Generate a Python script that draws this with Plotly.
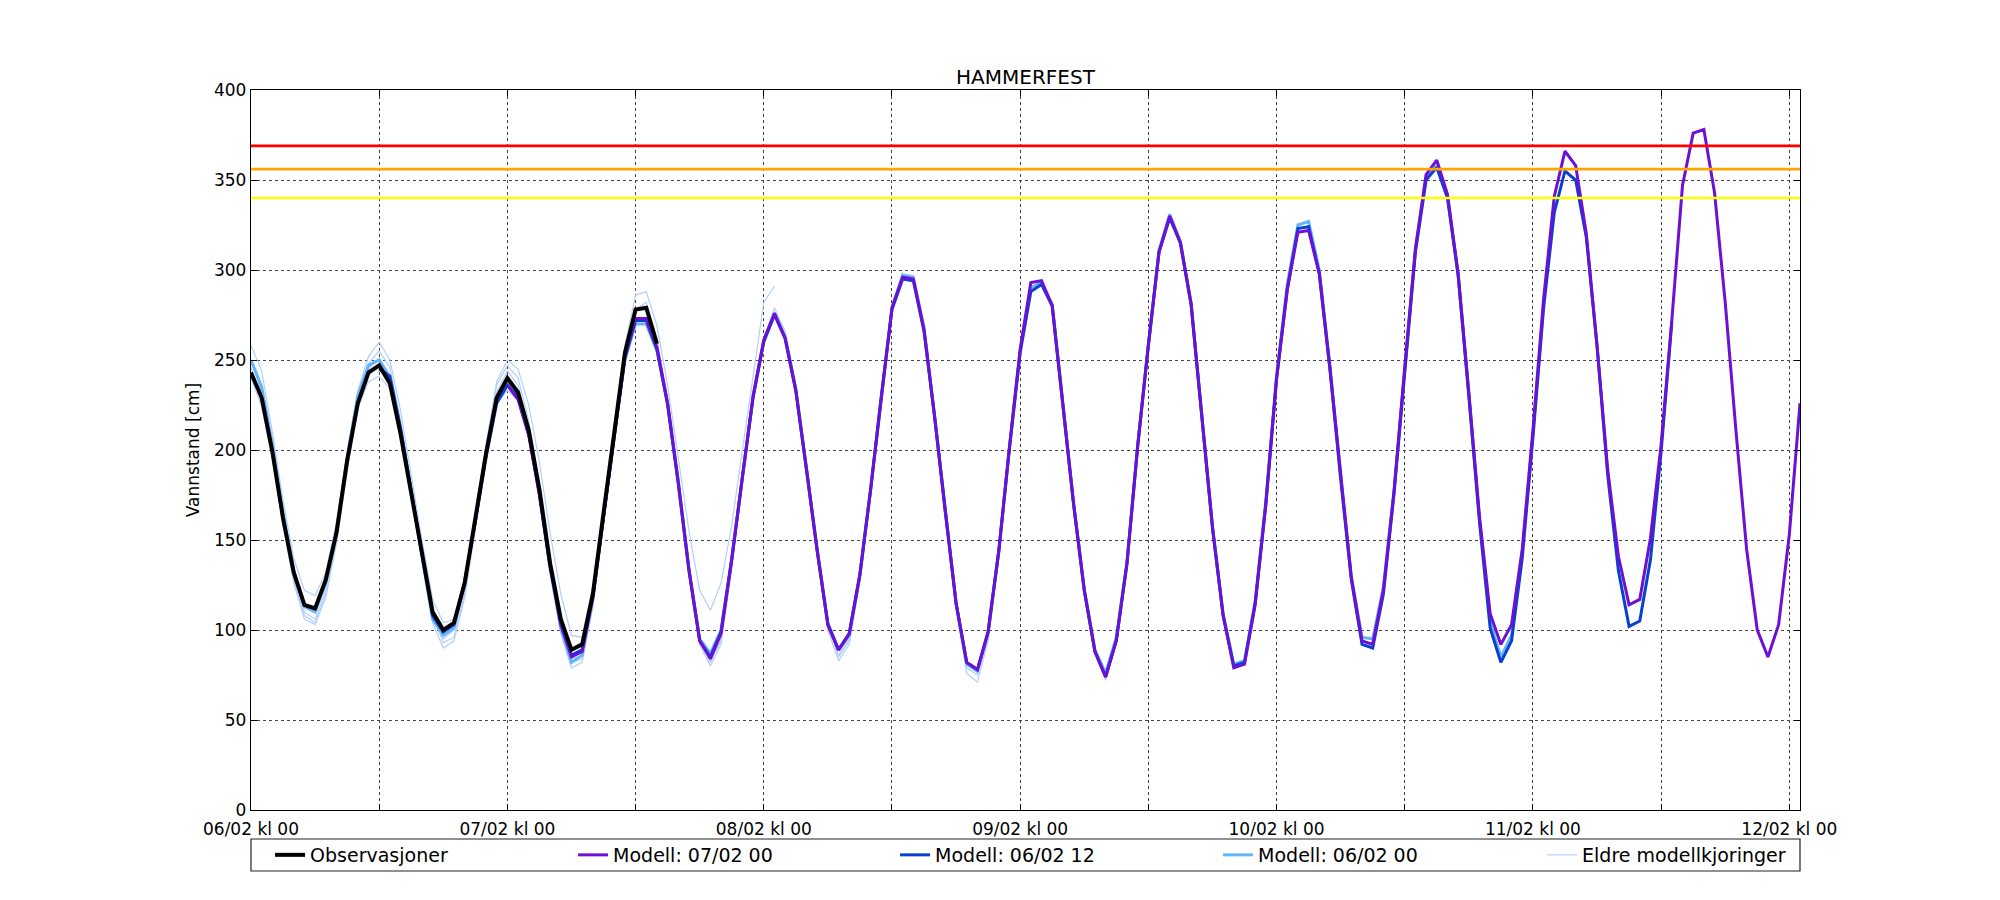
import pandas as pd
import plotly.graph_objects as go

# hourly timeline, 06/02 00 -> 12/02 01
times = pd.date_range("2020-02-06 00:00", periods=146, freq="h")

# Observasjoner, from 06/02 00
obs = [243, 229, 199, 162, 132, 114, 112, 128, 154, 194, 226, 243, 247, 237, 209, 176, 142, 110, 100, 104,
       126, 161, 198, 229, 240, 232, 211, 178, 137, 106, 89, 92, 120, 165, 211, 254, 278, 279, 259]

# Modell: 07/02 00, from 07/02 00 (hour 24)
m_0700 = [236, 228, 208, 175, 135, 103, 85, 88, 118, 163, 210, 252, 273, 273, 257, 226, 182, 133, 94, 84,
          98, 139, 185, 230, 261, 276, 262, 233, 189, 144, 103, 89, 98, 131, 178, 230, 279, 296, 295, 267,
          218, 165, 115, 82, 78, 99, 144, 202, 256, 293, 294, 280, 224, 170, 122, 88, 74, 94, 137, 202,
          258, 310, 330, 315, 281, 219, 157, 108, 79, 81, 114, 170, 239, 289, 321, 322, 298, 245, 185, 129,
          94, 92, 122, 177, 246, 312, 353, 361, 342, 298, 232, 163, 109, 92, 103, 145, 211, 284, 341, 366,
          358, 320, 258, 189, 141, 114, 117, 151, 203, 272, 347, 376, 378, 343, 282, 211, 145, 100, 85, 103,
          153, 226]

# Modell: 06/02 12, from 06/02 12 (hour 12)
m_0612 = [245, 241, 212, 177, 141, 108, 99, 103, 127, 160, 196, 226, 236, 229, 209, 176, 136, 104, 86, 89,
          119, 163, 209, 251, 272, 272, 256, 225, 181, 133, 94, 85, 99, 139, 185, 229, 260, 275, 262, 233,
          189, 144, 103, 89, 98, 131, 178, 230, 278, 295, 294, 266, 218, 165, 115, 82, 78, 99, 144, 201,
          254, 288, 292, 280, 224, 170, 122, 88, 74, 94, 137, 202, 258, 310, 329, 315, 281, 219, 157, 108,
          80, 82, 115, 170, 240, 289, 323, 324, 298, 245, 184, 128, 92, 90, 120, 176, 245, 310, 350, 357,
          340, 297, 230, 160, 101, 82, 94, 140, 207, 279, 332, 355, 350, 318, 258, 186, 133, 102, 105, 139,
          199, 271]

# Modell: 06/02 00, from 06/02 00
m_0600 = [250, 235, 203, 165, 133, 113, 110, 126, 155, 196, 230, 247, 250, 240, 212, 177, 140, 106, 97, 101,
          126, 161, 199, 229, 238, 230, 209, 175, 134, 101, 82, 86, 117, 162, 209, 250, 270, 270, 255, 226,
          183, 134, 95, 87, 100, 140, 186, 230, 261, 276, 263, 234, 190, 145, 104, 89, 97, 130, 178, 230,
          279, 297, 296, 268, 219, 166, 115, 81, 77, 98, 143, 201, 255, 290, 293, 281, 225, 171, 123, 89,
          76, 96, 138, 203, 259, 311, 331, 316, 282, 220, 158, 109, 81, 83, 116, 172, 241, 292, 325, 327,
          300, 247, 186, 130, 96, 95, 124, 178, 246, 311, 351, 358, 341, 297, 231, 161, 104, 85, 97, 143,
          209, 281]

# Eldre modellkjoringer, all from 06/02 00
eldre_1 = [258, 244, 210, 172, 140, 122, 119, 132, 160, 198, 233, 252, 260, 250, 222, 186, 150, 117, 104, 106,
           128, 164, 203, 238, 250, 245, 225, 193, 154, 120, 97, 96, 124, 166, 214, 258, 286, 288, 269, 236,
           196, 155, 122, 111, 126, 158, 200, 241, 282, 291]
eldre_2 = [250, 232, 200, 160, 128, 108, 104, 120, 150, 190, 228, 248, 255, 246, 216, 180, 142, 108, 93, 96,
           120, 158, 200, 236, 247, 240, 216, 180, 138, 101, 82, 84, 114, 160, 208, 250, 278, 282, 262, 228,
           184, 136, 96, 82, 94, 136, 184, 230, 262, 279, 266, 236, 192, 146, 104, 85, 94, 128, 176, 230,
           280, 299]
eldre_3 = [246, 228, 196, 158, 126, 106, 103, 118, 148, 188, 225, 245, 251, 242, 213, 176, 138, 104, 90, 94,
           118, 156, 197, 232, 244, 236, 212, 176, 134, 98, 79, 82, 113, 159, 207, 249, 272, 273, 256, 224,
           180, 132, 92, 80, 92, 134, 182, 228, 260, 275, 262, 232, 188, 142, 100, 83, 92, 127, 175, 229,
           279, 297, 295, 266, 216, 162, 111, 76, 71, 94, 142, 200, 255, 290]
eldre_4 = [240, 224, 195, 160, 130, 110, 106, 122, 152, 192, 223, 238, 241, 234, 208, 174, 140, 108, 95, 100,
           124, 160, 196, 226, 233, 228, 207, 174, 134, 100, 84, 86, 116, 161, 208, 249, 270, 270, 254, 225,
           182, 134, 94, 82, 96, 138, 184, 229, 261, 276, 263, 234, 190, 145, 102, 86, 95, 129, 177, 230,
           280, 298, 297, 268, 218, 164, 113, 79, 75, 97, 143, 201, 256, 291, 293, 280, 224, 170, 122, 87,
           72, 93, 137, 202, 258, 311]

# warning levels [cm]
levels = [369, 356, 340]
level_colors = ['#ff0000', '#ffa500', '#ffff00']

tick_times = pd.date_range("2020-02-06 00:00", periods=13, freq="12h")
tick_labels = ["06/02 kl 00", "", "07/02 kl 00", "", "08/02 kl 00", "", "09/02 kl 00", "",
               "10/02 kl 00", "", "11/02 kl 00", "", "12/02 kl 00"]

FONT = "DejaVu Sans"
fig = go.Figure()

for i, run in enumerate([eldre_1, eldre_2, eldre_3, eldre_4]):
    fig.add_trace(go.Scatter(x=times[:len(run)], y=run, mode='lines', name='Eldre modellkjoringer',
                             line=dict(color='#b4cffa', width=1.2), legendgroup='eldre',
                             showlegend=(i == 0), legendrank=5, legendwidth=200))

fig.add_trace(go.Scatter(x=times[0:0 + len(m_0600)], y=m_0600, mode='lines', name='Modell: 06/02 00',
                         line=dict(color='#64b4fa', width=3), legendrank=4, legendwidth=279))
fig.add_trace(go.Scatter(x=times[12:12 + len(m_0612)], y=m_0612, mode='lines', name='Modell: 06/02 12',
                         line=dict(color='#0a40d0', width=3), legendrank=3, legendwidth=278))
fig.add_trace(go.Scatter(x=times[24:24 + len(m_0700)], y=m_0700, mode='lines', name='Modell: 07/02 00',
                         line=dict(color='#6c10d4', width=3), legendrank=2, legendwidth=277))
fig.add_trace(go.Scatter(x=times[:len(obs)], y=obs, mode='lines', name='Observasjoner',
                         line=dict(color='black', width=4), legendrank=1, legendwidth=258))

for lvl, col in zip(levels, level_colors):
    fig.add_hline(y=lvl, line=dict(color=col, width=2.7), layer='above')

# legend frame
fig.add_shape(type='rect', xref='paper', yref='paper', x0=0, x1=1, y0=-0.0847, y1=-0.0403,
              line=dict(color='#222', width=1.2), fillcolor='rgba(0,0,0,0)')

axis_common = dict(showline=True, linecolor='black', linewidth=1.3, mirror='ticks',
                   ticks='inside', ticklen=6, tickcolor='black',
                   showgrid=True, gridcolor='#444', gridwidth=1, griddash='dot',
                   zeroline=False, tickfont=dict(family=FONT, size=17, color='black'))

fig.update_xaxes(**axis_common, range=[times[0], times[-1]], ticklabelstandoff=3,
                 tickmode='array', tickvals=tick_times, ticktext=tick_labels)
fig.update_yaxes(**axis_common, range=[0, 400], tickmode='linear', tick0=0, dtick=50,
                 title=dict(text='Vannstand [cm]', font=dict(family=FONT, size=17, color='black'), standoff=10))

fig.update_layout(
    width=2000, height=900,
    title=dict(text='HAMMERFEST', font=dict(family=FONT, size=20, color='black'),
               x=0.5, xref='paper', xanchor='center', y=1, yref='paper', yanchor='bottom', pad=dict(b=6)),
    margin=dict(l=251, r=200, t=90, b=90),
    paper_bgcolor='white', plot_bgcolor='white',
    font=dict(family=FONT, color='black'),
    showlegend=True,
    legend=dict(orientation='h', x=0.0123, xanchor='left', y=-0.0625, yanchor='middle',
                font=dict(family=FONT, size=19, color='black'), bgcolor='rgba(0,0,0,0)',
                traceorder='normal'),
)

# page body has a default 8px margin; drop it so the figure sits at 0,0
fig.write_html("out.html", config={'displayModeBar': False},
               post_script="document.body.style.margin='0px';")
